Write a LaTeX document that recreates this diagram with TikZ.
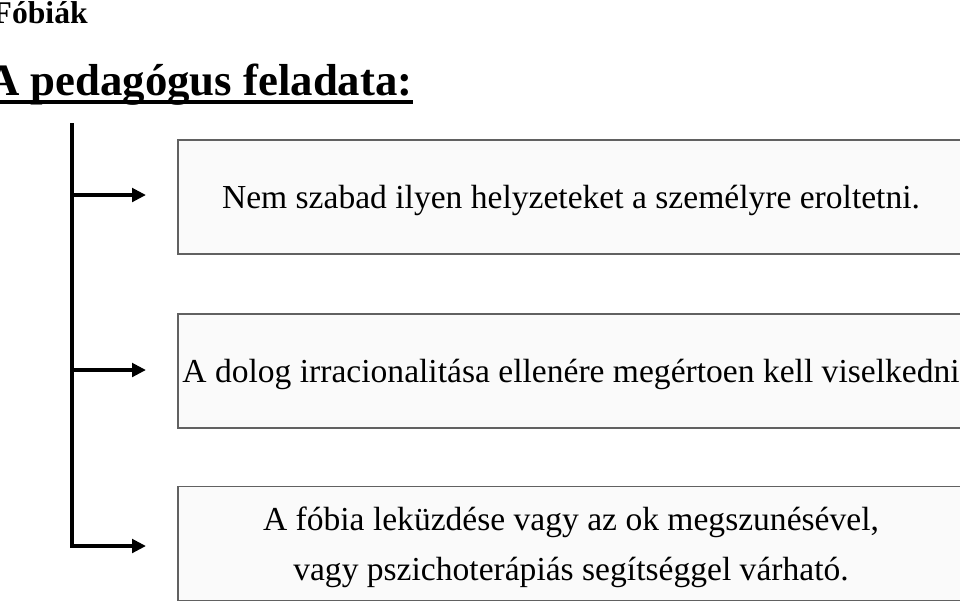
\documentclass[tikz,border=0pt]{standalone}
\usepackage{fontspec}
\setmainfont{Liberation Serif}
\usetikzlibrary{arrows.meta}
\tikzset{
  doboz/.style={draw=black!62, fill=black!2, line width=0.9pt, minimum width=15.72cm, minimum height=2.28cm, inner sep=0pt, text depth=0pt, align=center, font=\fontsize{19.1}{28.5}\selectfont},
  nyil/.style={line width=2.4pt, -{Triangle[length=0.28cm, width=0.27cm]}}
}
\begin{document}
\begin{tikzpicture}[x=0.02cm, y=-0.02cm]
                    \useasboundingbox (0,0) rectangle (960,603);
                    \clip (0,0) rectangle (960,603);
                    \node[anchor=base east, inner sep=0pt, font=\fontsize{18}{21}\selectfont\bfseries] (cim) at (88,23) {Fóbiák};
                    \node[anchor=base east, inner sep=0pt, font=\fontsize{25.5}{30}\selectfont\bfseries] (feladat) at (413,95) {A pedagógus feladata:};
                    \draw[line width=2.4pt] ([yshift=-0.14cm]feladat.base west)--([yshift=-0.14cm]feladat.base east);

                    \node[doboz] (d1) at (571,197) {Nem szabad ilyen helyzeteket a személyre eroltetni.};
                    \node[doboz] (d2) at (571,371) {A dolog irracionalitása ellenére megértoen kell viselkedni};
                    \node[doboz] (d3) at (571,543.5) {A fóbia leküzdése vagy az ok megszunésével,\\vagy pszichoterápiás segítséggel várható.};

                    \coordinate (fent) at (72,123);
                    \coordinate (lent) at (72,548);
                    \draw[line width=2.6pt] (fent)--(lent);
                    \coordinate (v1) at (146,195);
                    \coordinate (v2) at (146,370);
                    \coordinate (v3) at (146,546);
                    \draw[nyil] (fent|-v1)--(v1);
                    \draw[nyil] (fent|-v2)--(v2);
                    \draw[nyil] (fent|-v3)--(v3);
\end{tikzpicture}
\end{document}
